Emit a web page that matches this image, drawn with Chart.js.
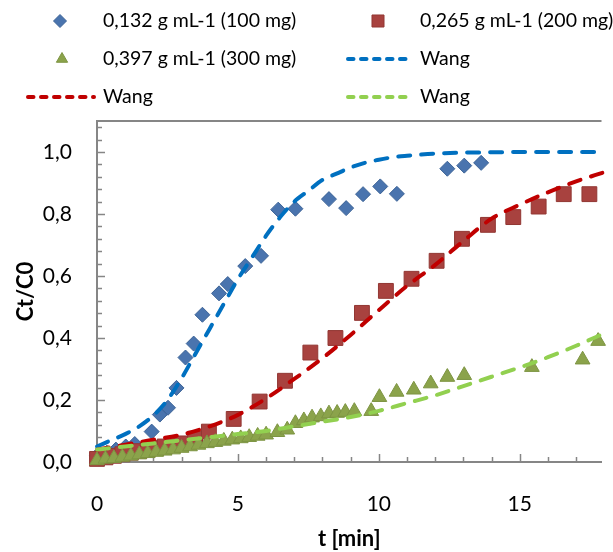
<!DOCTYPE html>
<html>
<head>
<meta charset="utf-8">
<script src="https://cdn.jsdelivr.net/npm/chart.js@4/dist/chart.umd.min.js"></script>
<style>
  html, body { margin: 0; padding: 0; background: #ffffff; }
  #c { display: block; }
</style>
</head>
<body>
<canvas id="c" width="613" height="552"></canvas>
<script>
// Measured breakthrough data, Ct/C0 against time t [min]
const tDose100 = [0, 0.35, 0.67, 1.02, 1.34, 1.94, 2.23, 2.52, 2.82, 3.14, 3.43, 3.74, 4.33, 4.64, 5.26, 5.82, 6.43, 7.04, 8.23, 8.84, 9.44, 10.05, 10.64, 12.43, 13.03, 13.63];
const cDose100 = [0.02, 0.03, 0.04, 0.05, 0.058, 0.098, 0.153, 0.175, 0.239, 0.337, 0.382, 0.475, 0.544, 0.574, 0.632, 0.665, 0.814, 0.817, 0.848, 0.819, 0.864, 0.889, 0.865, 0.946, 0.956, 0.965];

const tDose200 = [0, 0.3, 0.6, 0.9, 1.2, 1.5, 1.8, 2.1, 2.4, 2.7, 3.0, 3.48, 3.97, 4.85, 5.77, 6.67, 7.57, 8.46, 9.40, 10.25, 11.16, 12.05, 12.95, 13.87, 14.77, 15.67, 16.56, 17.47];
const cDose200 = [0.01, 0.015, 0.02, 0.025, 0.03, 0.035, 0.04, 0.045, 0.05, 0.055, 0.06, 0.075, 0.098, 0.139, 0.195, 0.262, 0.353, 0.400, 0.481, 0.552, 0.591, 0.649, 0.720, 0.765, 0.790, 0.824, 0.864, 0.864];

const tDose300 = [0, 0.3, 0.6, 0.9, 1.2, 1.5, 1.8, 2.1, 2.4, 2.7, 3.0, 3.3, 3.6, 3.9, 4.2, 4.5, 4.8, 5.1, 5.4, 5.7, 6.0, 6.4, 6.75, 7.04, 7.34, 7.63, 7.94, 8.23, 8.52, 8.81, 9.13, 9.73, 10.02, 10.63, 11.24, 11.84, 12.43, 13.03, 15.43, 17.23, 17.78];
const cDose300 = [0.005, 0.01, 0.012, 0.016, 0.02, 0.024, 0.028, 0.032, 0.036, 0.04, 0.045, 0.05, 0.055, 0.06, 0.064, 0.068, 0.072, 0.076, 0.08, 0.084, 0.088, 0.096, 0.104, 0.125, 0.134, 0.143, 0.147, 0.156, 0.158, 0.161, 0.164, 0.164, 0.209, 0.226, 0.233, 0.253, 0.274, 0.280, 0.306, 0.330, 0.390];

// Wang model curves
const tWang100 = [0, 0.5, 1, 1.5, 2, 2.5, 3, 3.5, 4, 4.5, 5, 5.5, 6, 6.5, 7, 7.5, 8, 8.5, 9, 9.5, 10, 10.5, 11, 11.5, 12, 13, 14, 15, 16, 17, 18];
const cWang100 = [0.05, 0.07, 0.09, 0.115, 0.15, 0.20, 0.27, 0.35, 0.43, 0.51, 0.59, 0.66, 0.73, 0.79, 0.84, 0.875, 0.91, 0.93, 0.95, 0.965, 0.975, 0.983, 0.988, 0.992, 0.995, 0.998, 0.999, 1.0, 1.0, 1.0, 1.0];

const tWang200 = [0, 1, 2, 3, 4, 5, 6, 7, 8, 9, 10, 11, 12, 13, 14, 15, 16, 17, 18];
const cWang200 = [0.04, 0.056, 0.072, 0.088, 0.115, 0.152, 0.205, 0.268, 0.335, 0.41, 0.49, 0.568, 0.636, 0.713, 0.785, 0.83, 0.87, 0.905, 0.935];

const tWang300 = [0, 1, 2, 3, 4, 5, 6, 7, 8, 9, 10, 11, 12, 13, 14, 15, 16, 17, 18];
const cWang300 = [0.04, 0.05, 0.06, 0.07, 0.08, 0.09, 0.10, 0.115, 0.13, 0.145, 0.165, 0.19, 0.215, 0.245, 0.275, 0.305, 0.338, 0.375, 0.415];

const seriesLabels = ['0,132 g mL-1 (100 mg)', '0,265 g mL-1 (200 mg)', '0,397 g mL-1 (300 mg)', 'Wang', 'Wang', 'Wang'];
const xTitle = 't [min]';
const yTitle = 'Ct/C0';

const FONT = 'Lato, "Open Sans", sans-serif';
const AXIS_GREY = '#868686';

const pts = (xs, ys) => xs.map((x, i) => ({ x: x, y: ys[i] }));

const markerSet = (label, xs, ys, style, radius, fill, edge, order) => ({
  label: label, data: pts(xs, ys), showLine: false,
  pointStyle: style, pointRadius: radius, pointHoverRadius: radius,
  backgroundColor: fill, borderColor: edge, pointBorderWidth: 1,
  clip: false, order: order
});

const curveSet = (label, xs, ys, colour, order) => ({
  label: label, data: pts(xs, ys), showLine: true, pointRadius: 0,
  borderColor: colour, backgroundColor: colour, borderWidth: 4,
  borderDash: [12, 11], borderCapStyle: 'round',
  cubicInterpolationMode: 'monotone', clip: false, order: order
});

// inward minor/major ticks, plot outline
const axisDecor = {
  id: 'axisDecor',
  beforeDatasetsDraw(chart) {
    const { ctx, chartArea: a, scales: { x, y } } = chart;
    ctx.save();
    ctx.strokeStyle = AXIS_GREY;
    ctx.lineWidth = 1.5;
    ctx.beginPath();
    for (let i = 0; i <= 27; i++) {
      const py = Math.round(y.getPixelForValue(i * 0.04)) + 0.5;
      const len = i % 5 === 0 ? 8 : 5;
      ctx.moveTo(a.left, py); ctx.lineTo(a.left + len, py);
    }
    for (let i = 0; i <= 17; i++) {
      const px = Math.round(x.getPixelForValue(i)) + 0.5;
      const len = i % 5 === 0 ? 8 : 5;
      ctx.moveTo(px, a.bottom); ctx.lineTo(px, a.bottom - len);
    }
    ctx.stroke();
    ctx.lineWidth = 2;
    ctx.beginPath();
    ctx.moveTo(a.left, a.top); ctx.lineTo(a.right, a.top);
    ctx.stroke();
    ctx.restore();
  }
};

// two-column legend above the plot
const legendGrid = {
  id: 'legendGrid',
  afterDraw(chart) {
    const ctx = chart.ctx;
    const ds = chart.data.datasets;
    const slots = [
      { i: 0, sx: 60, tx: 103, y: 21 },
      { i: 1, sx: 378, tx: 420, y: 21 },
      { i: 2, sx: 62, tx: 103, y: 59 },
      { i: 3, x0: 348, x1: 409, tx: 420, y: 59 },
      { i: 4, x0: 28, x1: 94, tx: 103, y: 97 },
      { i: 5, x0: 348, x1: 409, tx: 420, y: 97 }
    ];
    ctx.save();
    slots.forEach(s => {
      const d = ds[s.i];
      if (s.sx !== undefined) {
        ctx.fillStyle = d.backgroundColor; ctx.strokeStyle = d.borderColor;
        ctx.lineWidth = 1;
        Chart.helpers.drawPoint(ctx, {
          pointStyle: d.pointStyle, radius: d.pointStyle === 'rect' ? 8.5 : 6.5,
          rotation: 0, borderWidth: 1
        }, s.sx, s.y);
      } else {
        ctx.strokeStyle = d.borderColor;
        ctx.lineWidth = 4;
        ctx.lineCap = 'round';
        ctx.setLineDash([5.5, 7.5]);
        ctx.beginPath();
        ctx.moveTo(s.x0, s.y); ctx.lineTo(s.x1, s.y);
        ctx.stroke();
        ctx.setLineDash([]);
      }
      ctx.fillStyle = '#000000';
      ctx.font = '19.5px ' + FONT;
      ctx.textAlign = 'left';
      ctx.textBaseline = 'middle';
      ctx.fillText(d.label, s.tx, s.y);
    });
    ctx.restore();
  }
};

new Chart(document.getElementById('c'), {
  type: 'scatter',
  data: {
    datasets: [
      markerSet(seriesLabels[0], tDose100, cDose100, 'rectRot', 7.5, '#4A74AE', '#3C6396', 6),
      markerSet(seriesLabels[1], tDose200, cDose200, 'rect', 10.5, '#A8423F', '#923733', 5),
      markerSet(seriesLabels[2], tDose300, cDose300, 'triangle', 8.5, '#8BA34B', '#7D9442', 4),
      curveSet(seriesLabels[3], tWang100, cWang100, '#0070C0', 3),
      curveSet(seriesLabels[4], tWang200, cWang200, '#C00000', 2),
      curveSet(seriesLabels[5], tWang300, cWang300, '#92D050', 1)
    ]
  },
  options: {
    responsive: false,
    animation: false,
    devicePixelRatio: 1,
    layout: { padding: { top: 121, right: 0, left: 0, bottom: 0 } },
    plugins: { legend: { display: false }, tooltip: { enabled: false } },
    scales: {
      x: {
        type: 'linear', min: 0, max: 17.9,
        afterFit: s => { s.height = 90; },
        grid: { display: false, drawTicks: false },
        border: { display: true, color: AXIS_GREY, width: 2 },
        ticks: {
          stepSize: 5, includeBounds: false, padding: 30,
          color: '#000000', font: { family: FONT, size: 21 },
          callback: v => String(v)
        },
        title: {
          display: true, text: xTitle, color: '#000000',
          font: { family: FONT, size: 22, weight: 'bold' },
          padding: { top: 0, bottom: 0 }
        }
      },
      y: {
        type: 'linear', min: 0, max: 1.1,
        afterFit: s => { s.width = 97; },
        grid: { display: false, drawTicks: false },
        border: { display: true, color: AXIS_GREY, width: 2 },
        ticks: {
          stepSize: 0.2, includeBounds: false, padding: 25,
          color: '#000000', font: { family: FONT, size: 21 },
          callback: v => v.toFixed(1).replace('.', ',')
        },
        title: {
          display: true, text: yTitle, color: '#000000',
          font: { family: FONT, size: 22, weight: 'bold' },
          padding: { top: 13, bottom: 0 }
        }
      }
    }
  },
  plugins: [axisDecor, legendGrid]
});
</script>
</body>
</html>
